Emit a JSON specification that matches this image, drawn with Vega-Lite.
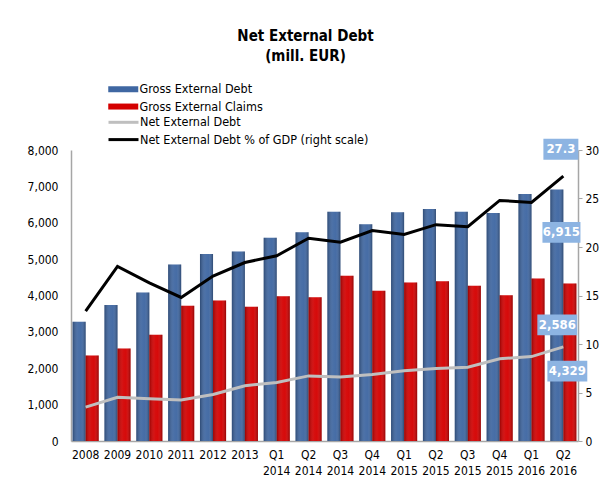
{
  "$schema": "https://vega.github.io/schema/vega-lite/v6.json",
  "width": 507,
  "height": 291,
  "autosize": {"type": "none"},
  "padding": {"left": 71, "top": 150, "right": 22, "bottom": 54},
  "background": "white",
  "title": {
    "text": ["Net External Debt", "(mill.  EUR)"],
    "font": "DejaVu Sans Condensed",
    "fontSize": 15,
    "fontWeight": "bold",
    "color": "#000000",
    "anchor": "middle",
    "lineHeight": 20,
    "dx": -19,
    "offset": 19
  },
  "config": {
    "view": {"stroke": null},
    "axis": {
      "labelFont": "DejaVu Sans Condensed",
      "labelFontSize": 12,
      "labelColor": "#000000",
      "domainColor": "#A6A6A6",
      "domainWidth": 1.5,
      "grid": false
    },
    "legend": {"padding": 0}
  },
  "data": {
    "values": [
      {"cat": "2008", "Gross External Debt": 3280, "Gross External Claims": 2350, "Net External Debt": 930, "Net External Debt % of GDP": 13.4},
      {"cat": "2009", "Gross External Debt": 3740, "Gross External Claims": 2540, "Net External Debt": 1200, "Net External Debt % of GDP": 18.0},
      {"cat": "2010", "Gross External Debt": 4080, "Gross External Claims": 2920, "Net External Debt": 1160, "Net External Debt % of GDP": 16.3},
      {"cat": "2011", "Gross External Debt": 4850, "Gross External Claims": 3720, "Net External Debt": 1130, "Net External Debt % of GDP": 14.8},
      {"cat": "2012", "Gross External Debt": 5140, "Gross External Claims": 3860, "Net External Debt": 1280, "Net External Debt % of GDP": 17.0},
      {"cat": "2013", "Gross External Debt": 5210, "Gross External Claims": 3690, "Net External Debt": 1520, "Net External Debt % of GDP": 18.4},
      {"cat": "Q1 2014", "Gross External Debt": 5590, "Gross External Claims": 3980, "Net External Debt": 1610, "Net External Debt % of GDP": 19.1},
      {"cat": "Q2 2014", "Gross External Debt": 5740, "Gross External Claims": 3950, "Net External Debt": 1790, "Net External Debt % of GDP": 20.9},
      {"cat": "Q3 2014", "Gross External Debt": 6300, "Gross External Claims": 4540, "Net External Debt": 1760, "Net External Debt % of GDP": 20.5},
      {"cat": "Q4 2014", "Gross External Debt": 5960, "Gross External Claims": 4130, "Net External Debt": 1830, "Net External Debt % of GDP": 21.7},
      {"cat": "Q1 2015", "Gross External Debt": 6290, "Gross External Claims": 4360, "Net External Debt": 1930, "Net External Debt % of GDP": 21.3},
      {"cat": "Q2 2015", "Gross External Debt": 6380, "Gross External Claims": 4390, "Net External Debt": 1990, "Net External Debt % of GDP": 22.3},
      {"cat": "Q3 2015", "Gross External Debt": 6300, "Gross External Claims": 4270, "Net External Debt": 2030, "Net External Debt % of GDP": 22.1},
      {"cat": "Q4 2015", "Gross External Debt": 6270, "Gross External Claims": 4010, "Net External Debt": 2260, "Net External Debt % of GDP": 24.8},
      {"cat": "Q1 2016", "Gross External Debt": 6790, "Gross External Claims": 4470, "Net External Debt": 2320, "Net External Debt % of GDP": 24.6},
      {"cat": "Q2 2016", "Gross External Debt": 6915, "Gross External Claims": 4329, "Net External Debt": 2586, "Net External Debt % of GDP": 27.3}
    ]
  },
  "encoding": {
    "x": {
      "field": "cat",
      "type": "nominal",
      "sort": ["2008", "2009", "2010", "2011", "2012", "2013", "Q1 2014", "Q2 2014", "Q3 2014", "Q4 2014", "Q1 2015", "Q2 2015", "Q3 2015", "Q4 2015", "Q1 2016", "Q2 2016"],
      "scale": {"paddingInner": 0.18, "paddingOuter": 0.05},
      "axis": {
        "title": null,
        "labelAngle": 0,
        "labelExpr": "split(datum.label, ' ')",
        "labelLineHeight": 16,
        "labelPadding": 8,
        "labelBaseline": "top",
        "ticks": false
      }
    }
  },
  "layer": [
    {
      "layer": [
        {
          "transform": [{"fold": ["Gross External Debt", "Gross External Claims"], "as": ["series", "value"]}],
          "mark": {"type": "bar"},
          "encoding": {
            "xOffset": {"field": "series", "type": "nominal", "scale": {"domain": ["Gross External Debt", "Gross External Claims"], "paddingInner": 0, "paddingOuter": 0}},
            "y": {
              "field": "value",
              "type": "quantitative",
              "title": null,
              "scale": {"domain": [0, 8000]},
              "axis": {"title": null, "values": [0, 1000, 2000, 3000, 4000, 5000, 6000, 7000, 8000], "format": ",.0f", "ticks": false, "labelPadding": 13}
            },
            "fill": {
              "field": "series",
              "type": "nominal",
              "scale": {"domain": ["Gross External Debt", "Gross External Claims"], "range": ["#3F67A2", "#D40000"]},
              "legend": {
                "orient": "none",
                "legendX": 36,
                "legendY": -67,
                "title": null,
                "symbolType": "M-1,-0.6H5V0.6H-1Z",
                "symbolSize": 100,
                "symbolStrokeWidth": 0,
                "labelFont": "DejaVu Sans Condensed",
                "labelFontSize": 12.5,
                "labelColor": "#000000",
                "labelOffset": 20,
                "labelLimit": 0,
                "rowPadding": 4.3
              }
            }
          }
        },
        {
          "transform": [{"fold": ["Gross External Debt", "Gross External Claims"], "as": ["series", "value"]}],
          "mark": {
            "type": "bar",
            "fill": {"gradient": "linear", "x1": 0, "y1": 0, "x2": 1, "y2": 0, "stops": [
              {"offset": 0, "color": "rgba(0,0,0,0.28)"},
              {"offset": 0.45, "color": "rgba(255,255,255,0.06)"},
              {"offset": 0.65, "color": "rgba(255,255,255,0.04)"},
              {"offset": 1, "color": "rgba(0,0,0,0.3)"}
            ]}
          },
          "encoding": {
            "xOffset": {"field": "series", "type": "nominal", "scale": {"domain": ["Gross External Debt", "Gross External Claims"], "paddingInner": 0, "paddingOuter": 0}},
            "y": {"field": "value", "type": "quantitative", "title": null, "scale": {"domain": [0, 8000]},
              "axis": {"title": null, "values": [0, 1000, 2000, 3000, 4000, 5000, 6000, 7000, 8000], "format": ",.0f", "ticks": false, "labelPadding": 13}}
          }
        },
        {
          "mark": {"type": "line", "strokeWidth": 3},
          "encoding": {
            "y": {"field": "Net External Debt", "type": "quantitative", "title": null, "scale": {"domain": [0, 8000]},
              "axis": {"title": null, "values": [0, 1000, 2000, 3000, 4000, 5000, 6000, 7000, 8000], "format": ",.0f", "ticks": false, "labelPadding": 13}},
            "stroke": {
              "datum": "Net External Debt",
              "type": "nominal",
              "scale": {"domain": ["Net External Debt", "Net External Debt % of GDP (right scale)"], "range": ["#BFBFBF", "#000000"]},
              "legend": {
                "orient": "none",
                "legendX": 36,
                "legendY": -34.2,
                "title": null,
                "symbolType": "M-1,0H5",
                "symbolSize": 100,
                "symbolStrokeWidth": 3,
                "labelFont": "DejaVu Sans Condensed",
                "labelFontSize": 12.5,
                "labelColor": "#000000",
                "labelOffset": 20,
                "labelLimit": 0,
                "rowPadding": 4.3
              }
            }
          }
        },
        {
          "transform": [{"filter": {"field": "cat", "equal": "Q2 2016"}}],
          "mark": {"type": "point", "shape": "M-1.1,1.71H0.9V2.81H-1.1Z", "size": 1444, "filled": true, "color": "#8DB4E2", "opacity": 1, "strokeWidth": 0},
          "encoding": {"y": {"field": "Gross External Debt", "type": "quantitative", "title": null, "scale": {"domain": [0, 8000]},
            "axis": {"title": null, "values": [0, 1000, 2000, 3000, 4000, 5000, 6000, 7000, 8000], "format": ",.0f", "ticks": false, "labelPadding": 13}}}
        },
        {
          "transform": [{"filter": {"field": "cat", "equal": "Q2 2016"}}],
          "mark": {"type": "text", "dx": -2, "dy": 43, "color": "#FFFFFF", "font": "DejaVu Sans Condensed", "fontSize": 13, "fontWeight": "bold"},
          "encoding": {
            "y": {"field": "Gross External Debt", "type": "quantitative", "title": null, "scale": {"domain": [0, 8000]},
              "axis": {"title": null, "values": [0, 1000, 2000, 3000, 4000, 5000, 6000, 7000, 8000], "format": ",.0f", "ticks": false, "labelPadding": 13}},
            "text": {"field": "Gross External Debt", "type": "quantitative", "format": ","}
          }
        },
        {
          "transform": [{"filter": {"field": "cat", "equal": "Q2 2016"}}],
          "mark": {"type": "point", "shape": "M-1.37,-1.71H0.73V-0.61H-1.37Z", "size": 1444, "filled": true, "color": "#8DB4E2", "opacity": 1, "strokeWidth": 0},
          "encoding": {"y": {"field": "Net External Debt", "type": "quantitative", "title": null, "scale": {"domain": [0, 8000]},
            "axis": {"title": null, "values": [0, 1000, 2000, 3000, 4000, 5000, 6000, 7000, 8000], "format": ",.0f", "ticks": false, "labelPadding": 13}}}
        },
        {
          "transform": [{"filter": {"field": "cat", "equal": "Q2 2016"}}],
          "mark": {"type": "text", "dx": -6, "dy": -22, "color": "#FFFFFF", "font": "DejaVu Sans Condensed", "fontSize": 13, "fontWeight": "bold"},
          "encoding": {
            "y": {"field": "Net External Debt", "type": "quantitative", "title": null, "scale": {"domain": [0, 8000]},
              "axis": {"title": null, "values": [0, 1000, 2000, 3000, 4000, 5000, 6000, 7000, 8000], "format": ",.0f", "ticks": false, "labelPadding": 13}},
            "text": {"field": "Net External Debt", "type": "quantitative", "format": ","}
          }
        },
        {
          "transform": [{"filter": {"field": "cat", "equal": "Q2 2016"}}],
          "mark": {"type": "point", "shape": "M-0.84,4.06H1.26V5.16H-0.84Z", "size": 1444, "filled": true, "color": "#8DB4E2", "opacity": 1, "strokeWidth": 0},
          "encoding": {"y": {"field": "Gross External Claims", "type": "quantitative", "title": null, "scale": {"domain": [0, 8000]},
            "axis": {"title": null, "values": [0, 1000, 2000, 3000, 4000, 5000, 6000, 7000, 8000], "format": ",.0f", "ticks": false, "labelPadding": 13}}}
        },
        {
          "transform": [{"filter": {"field": "cat", "equal": "Q2 2016"}}],
          "mark": {"type": "text", "dx": 4, "dy": 87.5, "color": "#FFFFFF", "font": "DejaVu Sans Condensed", "fontSize": 13, "fontWeight": "bold"},
          "encoding": {
            "y": {"field": "Gross External Claims", "type": "quantitative", "title": null, "scale": {"domain": [0, 8000]},
              "axis": {"title": null, "values": [0, 1000, 2000, 3000, 4000, 5000, 6000, 7000, 8000], "format": ",.0f", "ticks": false, "labelPadding": 13}},
            "text": {"field": "Gross External Claims", "type": "quantitative", "format": ","}
          }
        }
      ]
    },
    {
      "layer": [
        {
          "mark": {"type": "line", "strokeWidth": 3},
          "encoding": {
            "y": {
              "field": "Net External Debt % of GDP",
              "type": "quantitative",
              "title": null,
              "scale": {"domain": [0, 30]},
              "axis": {"title": null, "orient": "right", "values": [0, 5, 10, 15, 20, 25, 30], "format": "d", "ticks": true, "tickSize": 4, "tickColor": "#A6A6A6", "labelPadding": 3}
            },
            "stroke": {"datum": "Net External Debt % of GDP (right scale)", "type": "nominal"}
          }
        },
        {
          "transform": [{"filter": {"field": "cat", "equal": "Q2 2016"}}],
          "mark": {"type": "point", "shape": "M-1.05,-1.97H0.79V-0.87H-1.05Z", "size": 1444, "filled": true, "color": "#8DB4E2", "opacity": 1, "strokeWidth": 0},
          "encoding": {"y": {"field": "Net External Debt % of GDP", "type": "quantitative", "title": null, "scale": {"domain": [0, 30]},
            "axis": {"title": null, "orient": "right", "values": [0, 5, 10, 15, 20, 25, 30], "format": "d", "ticks": true, "tickSize": 4, "tickColor": "#A6A6A6", "labelPadding": 3}}}
        },
        {
          "transform": [{"filter": {"field": "cat", "equal": "Q2 2016"}}],
          "mark": {"type": "text", "dx": -2.5, "dy": -27, "color": "#FFFFFF", "font": "DejaVu Sans Condensed", "fontSize": 13, "fontWeight": "bold"},
          "encoding": {
            "y": {"field": "Net External Debt % of GDP", "type": "quantitative", "title": null, "scale": {"domain": [0, 30]},
              "axis": {"title": null, "orient": "right", "values": [0, 5, 10, 15, 20, 25, 30], "format": "d", "ticks": true, "tickSize": 4, "tickColor": "#A6A6A6", "labelPadding": 3}},
            "text": {"field": "Net External Debt % of GDP", "type": "quantitative", "format": ".1f"}
          }
        }
      ]
    }
  ],
  "resolve": {"scale": {"y": "independent"}}
}
